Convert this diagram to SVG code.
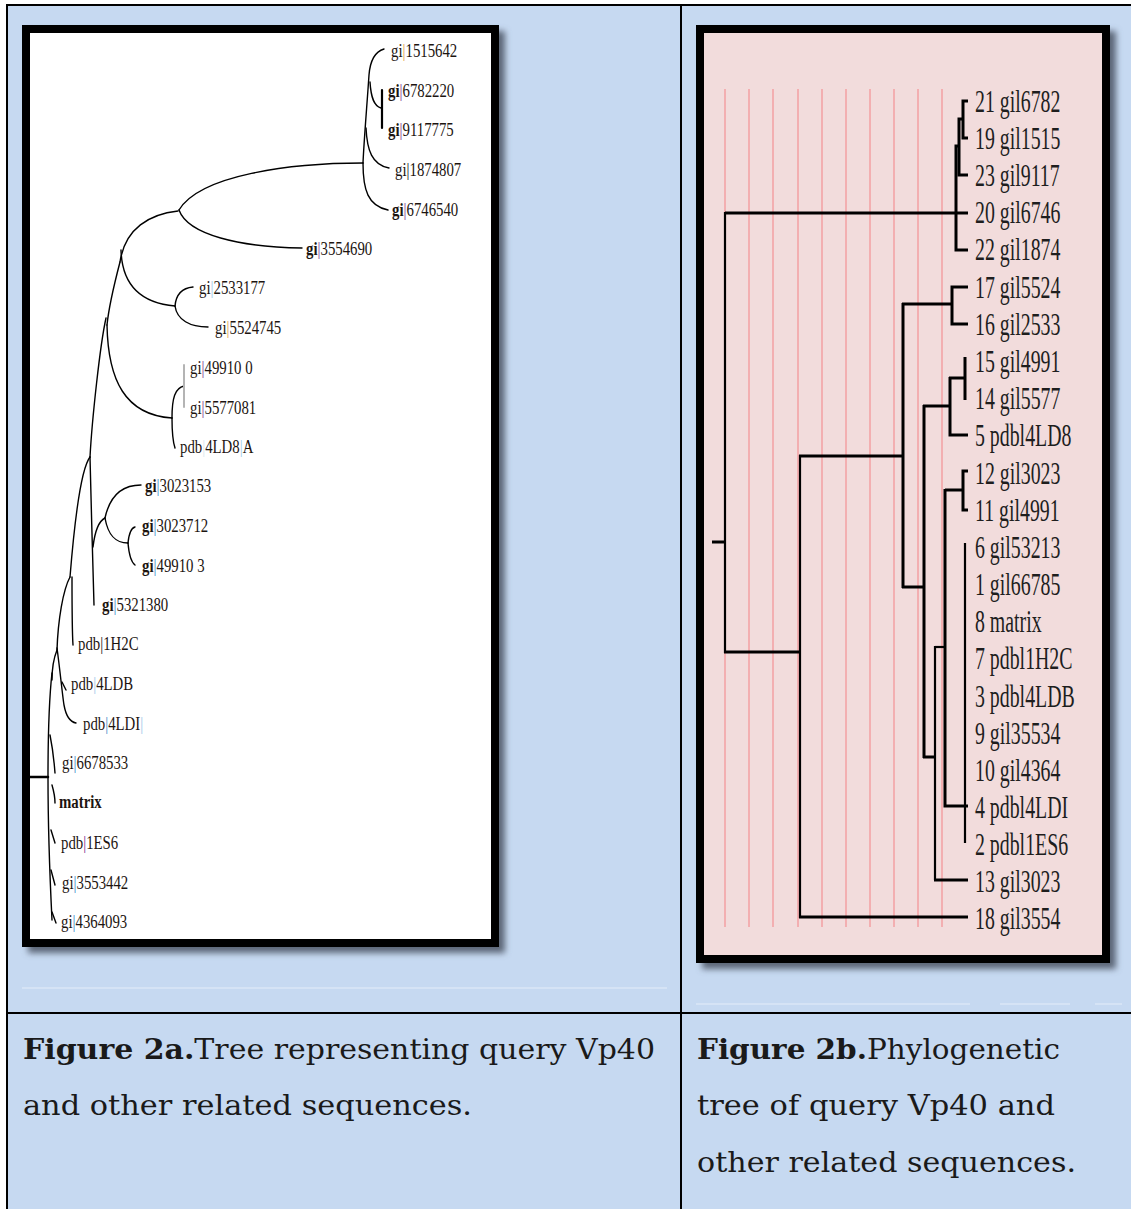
<svg xmlns="http://www.w3.org/2000/svg" width="1131" height="1209" viewBox="0 0 1131 1209">
<defs>
<filter id="blur" x="-5%" y="-5%" width="110%" height="110%"><feGaussianBlur stdDeviation="3"/></filter>
<style>
.tl{fill:none;stroke:#000;stroke-width:1.4;stroke-linecap:round}
.tr{fill:none;stroke:#000;stroke-width:3;stroke-linecap:butt}
.trt{fill:none;stroke:#000;stroke-width:2.2}
.guide{stroke:#f3a0a3;stroke-width:1.5}
.l{font-family:"Liberation Serif","Times New Roman",serif;font-size:18.5px;fill:#1c1410}
.r{font-family:"Liberation Serif","Times New Roman",serif;font-size:32px;fill:#1e1e1e}
.cap{font-family:"DejaVu Serif","Liberation Serif",serif;font-size:27px;fill:#1a1a1a}
.b{font-weight:bold}
.po{fill:#e39b3c}.pp{fill:#7a2a8c}.pb{fill:#3a86c8}.pl{fill:#9cc8e8}.pk{fill:#111}
</style>
</defs>
<rect width="1131" height="1209" fill="#ffffff"/>
<rect x="7" y="5" width="1124" height="1204" fill="#c6d9f1"/>
<g id="table" stroke="#000" stroke-width="2">
<line x1="6" y1="5" x2="1131" y2="5"/>
<line x1="7" y1="4" x2="7" y2="1209"/>
<line x1="681" y1="4" x2="681" y2="1209"/>
<line x1="6" y1="1013" x2="1131" y2="1013"/>
</g>
<g id="faint" stroke="#e4edf9" stroke-width="1">
<line x1="22" y1="988" x2="667" y2="988"/>
<line x1="696" y1="1004" x2="970" y2="1004"/>
<line x1="1000" y1="1004" x2="1070" y2="1004"/>
<line x1="1095" y1="1004" x2="1122" y2="1004"/>
</g>
<!-- Figure 2a frame -->
<rect x="28" y="31" width="477" height="922" fill="#5b6677" filter="url(#blur)"/>
<rect x="26" y="29" width="469" height="914" fill="#fff" stroke="#000" stroke-width="8"/>
<!-- Figure 2b frame -->
<rect x="702" y="31" width="414" height="938" fill="#5b6677" filter="url(#blur)"/>
<rect x="700" y="29" width="406" height="930" fill="#f2dcdc" stroke="#000" stroke-width="8"/>
<g id="guides" class="guide">
<line x1="725" y1="89" x2="725" y2="927"/><line x1="749" y1="89" x2="749" y2="927"/>
<line x1="773" y1="89" x2="773" y2="927"/><line x1="798" y1="89" x2="798" y2="927"/>
<line x1="822" y1="89" x2="822" y2="927"/><line x1="846" y1="89" x2="846" y2="927"/>
<line x1="870" y1="89" x2="870" y2="927"/><line x1="894" y1="89" x2="894" y2="927"/>
<line x1="918" y1="89" x2="918" y2="927"/><line x1="942" y1="89" x2="942" y2="927"/>
</g>
<!-- connectors 2a -->
<g id="connectors-2a" class="tl">
<path d="M384,49 C374,52 370,62 369,75 C367,105 364,140 363,163"/>
<path d="M370,82 C371,98 374,106 381,108"/>
<path d="M382,90 V128" stroke-width="2.2"/>
<path d="M366,128 C367,150 372,165 389,168"/>
<path d="M363,163 C363,190 368,206 388,210"/>
<path d="M363,163 C290,163 200,175 179,210"/>
<path d="M179,210 C188,235 240,247 302,248"/>
<path d="M178,211 C150,214 125,228 120,262"/>
<path d="M121,250 C122,285 140,303 175,306"/>
<path d="M175,306 C176,295 182,288 193,287"/>
<path d="M175,306 C177,320 190,327 208,327"/>
<path d="M120,262 C114,285 109,305 107,325"/>
<path d="M107,325 C108,380 125,415 172,418"/>
<path d="M106,318 C100,345 92,420 90,457"/>
<path d="M90,457 C91,500 93,570 94,605"/>
<path d="M93,547 C95,530 99,521 105,518"/>
<path d="M105,518 C110,495 122,485 141,485"/>
<path d="M105,518 C108,535 115,543 128,543"/>
<path d="M128,543 C129,533 131,528 135,527"/>
<path d="M128,543 C129,555 131,562 135,565"/>
<path d="M172,418 C172,398 175,388 184,386"/>
<path d="M184,365 V407" stroke="#b4b4b4" stroke-width="2"/>
<path d="M172,418 C172,430 173,442 175,448"/>
<path d="M90,457 C80,470 73,540 70,577"/>
<path d="M72,577 C72,600 72,630 73,645"/>
<path d="M70,577 C63,590 58,620 57,650"/>
<path d="M57,648 C60,670 63,700 64,705 C66,716 70,722 76,723"/>
<path d="M62,682 L66,690"/>
<path d="M57,650 C53,660 52,670 52,680"/>
<path d="M52,673 C49,700 48,740 48,777 C48,820 50,880 52,920"/>
<path d="M50,735 C52,745 54,760 55,773"/>
<path d="M52,785 C54,792 55,798 55,803"/>
<path d="M51,830 L55,843"/>
<path d="M51,870 L55,885"/>
<path d="M52,912 L56,923"/>
<path d="M30,777 H48" stroke-width="2.5"/>
</g>
<!-- labels 2a -->
<g id="n-gi1515642"><text class="l" transform="translate(391,57) scale(0.8,1)">gi<tspan class="po">|</tspan>1515642</text></g>
<g id="n-gi6782220"><text class="l" transform="translate(388,97) scale(0.8,1)"><tspan class="b">gi</tspan><tspan class="pp">|</tspan>6782220</text></g>
<g id="n-gi9117775"><text class="l" transform="translate(388,136) scale(0.8,1)"><tspan class="b">gi</tspan><tspan class="pp">|</tspan>9117775</text></g>
<g id="n-gi1874807"><text class="l" transform="translate(395,176) scale(0.8,1)">gi<tspan class="pk">|</tspan>1874807</text></g>
<g id="n-gi6746540"><text class="l" transform="translate(392,216) scale(0.8,1)"><tspan class="b">gi</tspan><tspan class="pp">|</tspan>6746540</text></g>
<g id="n-gi3554690"><text class="l" transform="translate(306,255) scale(0.8,1)"><tspan class="b">gi</tspan><tspan class="pp">|</tspan>3554690</text></g>
<g id="n-gi2533177"><text class="l" transform="translate(199,294) scale(0.8,1)">gi<tspan class="pl">|</tspan>2533177</text></g>
<g id="n-gi5524745"><text class="l" transform="translate(215,334) scale(0.8,1)">gi<tspan class="po">|</tspan>5524745</text></g>
<g id="n-gi499100"><text class="l" transform="translate(190,374) scale(0.8,1)">gi<tspan class="pp">|</tspan>49910 0</text></g>
<g id="n-gi5577081"><text class="l" transform="translate(190,414) scale(0.8,1)">gi<tspan class="pp">|</tspan>5577081</text></g>
<g id="n-pdb4LD8A"><text class="l" transform="translate(180,453) scale(0.8,1)">pdb<tspan fill="#d8e6ee">|</tspan>4LD8<tspan class="pl">|</tspan>A</text></g>
<g id="n-gi3023153"><text class="l" transform="translate(145,492) scale(0.8,1)"><tspan class="b">gi</tspan><tspan class="pb">|</tspan>3023153</text></g>
<g id="n-gi3023712"><text class="l" transform="translate(142,532) scale(0.8,1)"><tspan class="b">gi</tspan><tspan class="pb">|</tspan>3023712</text></g>
<g id="n-gi499103"><text class="l" transform="translate(142,572) scale(0.8,1)"><tspan class="b">gi</tspan><tspan class="pb">|</tspan>49910 3</text></g>
<g id="n-gi5321380"><text class="l" transform="translate(102,611) scale(0.8,1)"><tspan class="b">gi</tspan><tspan class="pb">|</tspan>5321380</text></g>
<g id="n-pdb1H2C"><text class="l" transform="translate(78,650) scale(0.8,1)">pdb<tspan class="pk">|</tspan>1H2C</text></g>
<g id="n-pdb4LDB"><text class="l" transform="translate(71,690) scale(0.8,1)">pdb<tspan class="pl">|</tspan>4LDB</text></g>
<g id="n-pdb4LDI"><text class="l" transform="translate(83,730) scale(0.8,1)">pdb<tspan class="pb">|</tspan>4LDI<tspan class="pl">|</tspan></text></g>
<g id="n-gi6678533"><text class="l" transform="translate(62,769) scale(0.8,1)">gi<tspan class="pb">|</tspan>6678533</text></g>
<g id="n-matrix"><text class="l b" transform="translate(59,808) scale(0.8,1)">matrix</text></g>
<g id="n-pdb1ES6"><text class="l" transform="translate(61,849) scale(0.8,1)">pdb<tspan class="pp">|</tspan>1ES6</text></g>
<g id="n-gi3553442"><text class="l" transform="translate(62,889) scale(0.8,1)">gi<tspan class="pb">|</tspan>3553442</text></g>
<g id="n-gi4364093"><text class="l" transform="translate(61,928) scale(0.8,1)">gi<tspan class="pb">|</tspan>4364093</text></g>
<!-- connectors 2b -->
<g id="connectors-2b">
<path class="tr" d="M968,101 H963 V138 H968"/>
<path class="tr" d="M963,119 H959 V175 H968"/>
<path class="tr" d="M959,146 H956 V250 H968"/>
<path class="tr" d="M725,213 H968"/>
<path class="trt" d="M725,212 V653"/>
<path class="tr" d="M712,542 H725"/>
<path class="tr" d="M724,652 H801"/>
<path class="trt" d="M800,455 V918"/>
<path class="tr" d="M799,456 H904"/>
<path class="tr" d="M799,917 H968"/>
<path class="tr" d="M903,303 V588"/>
<path class="tr" d="M902,304 H952"/>
<path class="tr" d="M968,287 H952 V324 H968"/>
<path class="tr" d="M902,587 H925"/>
<path class="tr" d="M924,405 V758"/>
<path class="tr" d="M923,406 H950"/>
<path class="tr" d="M950,377 V435 H968"/>
<path class="tr" d="M949,378 H965"/>
<path class="tr" d="M965,357 V400"/>
<path class="tr" d="M968,471 H963 V510 H968"/>
<path class="tr" d="M945,490 H964"/>
<path class="tr" d="M945,489 V806 H968"/>
<path class="trt" d="M935,647 H946"/>
<path class="trt" d="M935,646 V880"/>
<path class="tr" d="M934,880 H968"/>
<path class="tr" d="M923,757 H936"/>
<path class="trt" d="M965,543 V843" stroke-width="2.6"/>
</g>
<!-- labels 2b -->
<g id="m21"><text class="r" transform="translate(975,112) scale(0.62,1)">21 gil6782</text></g>
<g id="m19"><text class="r" transform="translate(975,149) scale(0.62,1)">19 gil1515</text></g>
<g id="m23"><text class="r" transform="translate(975,186) scale(0.62,1)">23 gil9117</text></g>
<g id="m20"><text class="r" transform="translate(975,223) scale(0.62,1)">20 gil6746</text></g>
<g id="m22"><text class="r" transform="translate(975,260) scale(0.62,1)">22 gil1874</text></g>
<g id="m17"><text class="r" transform="translate(975,298) scale(0.62,1)">17 gil5524</text></g>
<g id="m16"><text class="r" transform="translate(975,335) scale(0.62,1)">16 gil2533</text></g>
<g id="m15"><text class="r" transform="translate(975,372) scale(0.62,1)">15 gil4991</text></g>
<g id="m14"><text class="r" transform="translate(975,409) scale(0.62,1)">14 gil5577</text></g>
<g id="m5"><text class="r" transform="translate(975,446) scale(0.62,1)">5 pdbl4LD8</text></g>
<g id="m12"><text class="r" transform="translate(975,484) scale(0.62,1)">12 gil3023</text></g>
<g id="m11"><text class="r" transform="translate(975,521) scale(0.62,1)">11 gil4991</text></g>
<g id="m6"><text class="r" transform="translate(975,558) scale(0.62,1)">6 gil53213</text></g>
<g id="m1"><text class="r" transform="translate(975,595) scale(0.62,1)">1 gil66785</text></g>
<g id="m8"><text class="r" transform="translate(975,632) scale(0.62,1)">8 matrix</text></g>
<g id="m7"><text class="r" transform="translate(975,669) scale(0.62,1)">7 pdbl1H2C</text></g>
<g id="m3"><text class="r" transform="translate(975,707) scale(0.62,1)">3 pdbl4LDB</text></g>
<g id="m9"><text class="r" transform="translate(975,744) scale(0.62,1)">9 gil35534</text></g>
<g id="m10"><text class="r" transform="translate(975,781) scale(0.62,1)">10 gil4364</text></g>
<g id="m4"><text class="r" transform="translate(975,818) scale(0.62,1)">4 pdbl4LDI</text></g>
<g id="m2"><text class="r" transform="translate(975,855) scale(0.62,1)">2 pdbl1ES6</text></g>
<g id="m13"><text class="r" transform="translate(975,892) scale(0.62,1)">13 gil3023</text></g>
<g id="m18"><text class="r" transform="translate(975,929) scale(0.62,1)">18 gil3554</text></g>
<!-- captions -->
<g id="caption-2a">
<text class="cap" x="23" y="1059" textLength="632" lengthAdjust="spacingAndGlyphs"><tspan class="b">Figure 2a.</tspan>Tree representing query Vp40</text>
<text class="cap" x="23" y="1115" textLength="449" lengthAdjust="spacingAndGlyphs">and other related sequences.</text>
</g>
<g id="caption-2b">
<text class="cap" x="697" y="1059" textLength="363" lengthAdjust="spacingAndGlyphs"><tspan class="b">Figure 2b.</tspan>Phylogenetic</text>
<text class="cap" x="697" y="1115" textLength="358" lengthAdjust="spacingAndGlyphs">tree of query Vp40 and</text>
<text class="cap" x="697" y="1172" textLength="379" lengthAdjust="spacingAndGlyphs">other related sequences.</text>
</g>
</svg>
